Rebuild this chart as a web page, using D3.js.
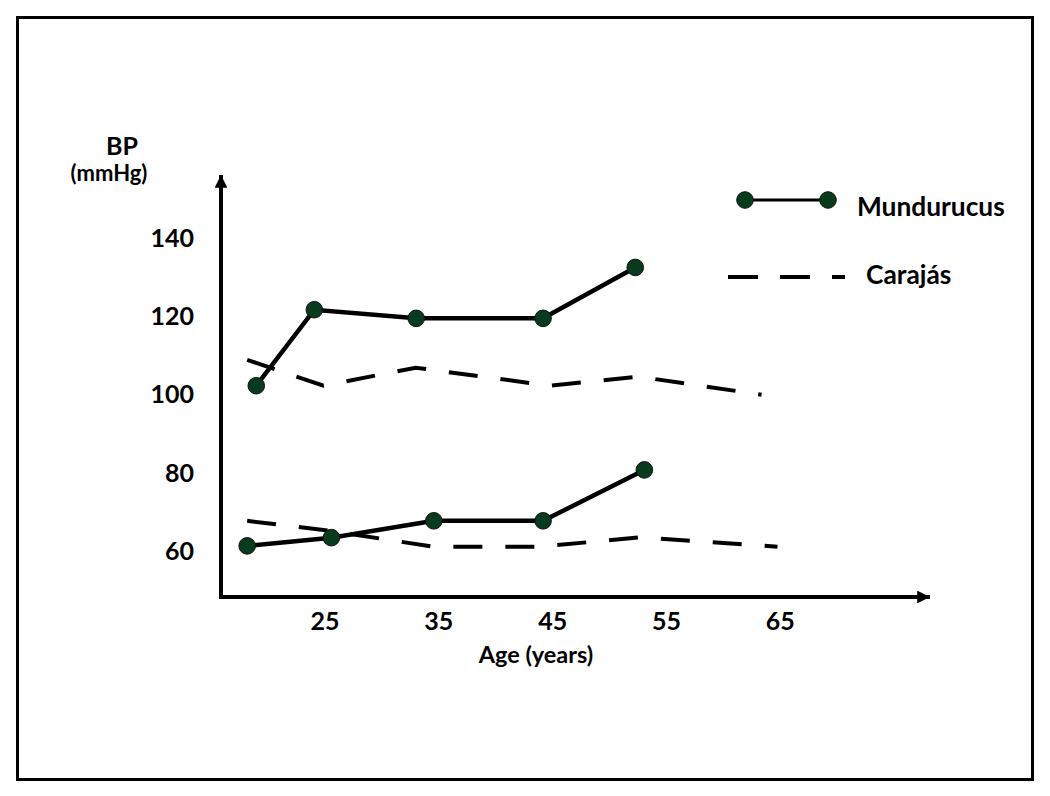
<!DOCTYPE html>
<html><head><meta charset="utf-8">
<script src="https://cdn.jsdelivr.net/npm/d3@7"></script>
<style>body{margin:0;background:#fff}svg{display:block}text{font-family:Lato,"Open Sans",sans-serif;font-weight:bold;fill:#000}</style>
</head><body>
<svg id="c" width="1050" height="796"></svg>
<script>
// Data
const xTicks = [25, 35, 45, 55, 65];
const yTicks = [60, 80, 100, 120, 140];
const mundSysAge = [19.0, 24.1, 33.05, 44.2, 52.3];
const mundSysBP  = [102.3, 121.7, 119.5, 119.5, 132.5];
const mundDiaAge = [18.2, 25.6, 34.6, 44.2, 53.1];
const mundDiaBP  = [61.4, 63.5, 67.8, 67.8, 80.8];
const carSysAge  = [18.2, 24.9, 33.0, 44.8, 52.6, 63.4];
const carSysBP   = [108.9, 102.3, 106.9, 102.3, 104.6, 100.0];
const carDiaAge  = [18.2, 25.6, 34.5, 44.0, 52.7, 64.8];
const carDiaBP   = [67.8, 65.2, 61.2, 61.2, 63.6, 61.2];
const seriesNames = ["Mundurucus", "Carajás"];

const svg = d3.select("#c");
const x = d3.scaleLinear().domain([15.9, 78.2]).range([221, 930]);
const y = d3.scaleLinear().domain([48.35, 156.1]).range([597, 175]);
const green = "#083a1e";

// frame
svg.append("rect").attr("x", 17.5).attr("y", 17.5).attr("width", 1015).attr("height", 762)
  .attr("fill", "none").attr("stroke", "#000").attr("stroke-width", 3);

// arrows
const defs = svg.append("defs");
defs.append("marker").attr("id", "ah").attr("viewBox", "0 0 10 10").attr("refX", 10).attr("refY", 5)
  .attr("markerWidth", 4.2).attr("markerHeight", 3.2).attr("markerUnits", "strokeWidth").attr("orient", "auto")
  .append("path").attr("d", "M0,0L10,5L0,10Z").attr("fill", "#000");

const [x0, x1] = x.range();
const [y0, y1] = y.range();
svg.append("line").attr("x1", x0).attr("y1", y0).attr("x2", x0).attr("y2", y1)
  .attr("stroke", "#000").attr("stroke-width", 4).attr("marker-end", "url(#ah)");
svg.append("line").attr("x1", x0 - 2).attr("y1", y0).attr("x2", x1).attr("y2", y0)
  .attr("stroke", "#000").attr("stroke-width", 4).attr("marker-end", "url(#ah)");

// axes labels
const gx = svg.append("g").attr("transform", `translate(0,${y0 + 12})`)
  .call(d3.axisBottom(x).tickValues(xTicks).tickSize(0).tickFormat(d3.format("d")));
gx.select(".domain").remove();
gx.selectAll("text").attr("font-size", 25).attr("font-family", "Lato").attr("dy", "0.71em");

const gy = svg.append("g").attr("transform", `translate(194,0)`)
  .call(d3.axisLeft(y).tickValues(yTicks).tickSize(0).tickFormat(d3.format("d")));
gy.select(".domain").remove();
gy.selectAll("text").attr("font-size", 25).attr("font-family", "Lato").attr("x", 0);

svg.append("text").attr("x", 536).attr("y", 663).attr("text-anchor", "middle").attr("font-size", 23.5).text("Age (years)");
svg.append("text").attr("x", 122).attr("y", 155).attr("text-anchor", "middle").attr("font-size", 25).text("BP");
svg.append("text").attr("x", 109).attr("y", 181).attr("text-anchor", "middle").attr("font-size", 22).text("(mmHg)");

const line = d3.line().x(d => x(d[0])).y(d => y(d[1]));
const zip = (a, b) => a.map((v, i) => [v, b[i]]);

// Carajás dashed
[zip(carSysAge, carSysBP), zip(carDiaAge, carDiaBP)].forEach(pts => {
  svg.append("path").attr("d", line(pts)).attr("fill", "none").attr("stroke", "#000")
    .attr("stroke-width", 4).attr("stroke-dasharray", "29,23");
});

// Mundurucus solid with markers
[zip(mundSysAge, mundSysBP), zip(mundDiaAge, mundDiaBP)].forEach(pts => {
  svg.append("path").attr("d", line(pts)).attr("fill", "none").attr("stroke", "#000").attr("stroke-width", 4.5);
  svg.selectAll(null).data(pts).enter().append("circle")
    .attr("cx", d => x(d[0])).attr("cy", d => y(d[1])).attr("r", 8.3)
    .attr("fill", green).attr("stroke", "#111").attr("stroke-width", 1);
});

// legend
const lg = svg.append("g");
lg.append("line").attr("x1", 745).attr("y1", 200).attr("x2", 828).attr("y2", 200).attr("stroke", "#000").attr("stroke-width", 3);
[745, 828].forEach(cx => lg.append("circle").attr("cx", cx).attr("cy", 200).attr("r", 8.3).attr("fill", green).attr("stroke", "#111").attr("stroke-width", 1));
lg.append("text").attr("x", 857).attr("y", 207).attr("dy", "0.35em").attr("font-size", 26.3).text(seriesNames[0]);
lg.append("line").attr("x1", 728).attr("y1", 277).attr("x2", 845).attr("y2", 277).attr("stroke", "#000").attr("stroke-width", 4).attr("stroke-dasharray", "30,22");
lg.append("text").attr("x", 866).attr("y", 275).attr("dy", "0.35em").attr("font-size", 26.3).text(seriesNames[1]);
</script>
</body></html>
